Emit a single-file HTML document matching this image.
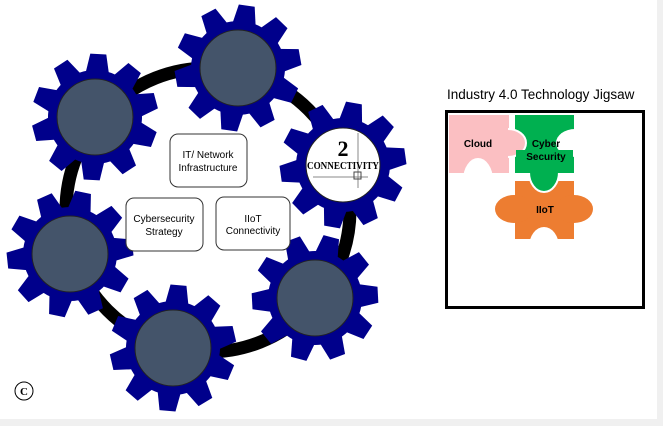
<!DOCTYPE html>
<html><head><meta charset="utf-8"><style>
html,body{margin:0;padding:0;background:#fff;}
body{width:663px;height:426px;overflow:hidden;position:relative;font-family:"Liberation Sans",sans-serif;}
</style></head><body>
<svg width="663" height="426" viewBox="0 0 663 426" xmlns="http://www.w3.org/2000/svg" style="position:absolute;left:0;top:0">
<rect x="0" y="419" width="663" height="7" fill="#f0f0f0"/>
<rect x="657" y="0" width="6" height="426" fill="#f0f0f0"/>
<defs>
<g id="gear">
 <circle r="47" fill="#00008b"/>
 <polygon id="t" points="-12,-42 -8,-63 8,-63 12,-42" fill="#00008b"/>
 <use href="#t" transform="rotate(36)"/><use href="#t" transform="rotate(72)"/>
 <use href="#t" transform="rotate(108)"/><use href="#t" transform="rotate(144)"/>
 <use href="#t" transform="rotate(180)"/><use href="#t" transform="rotate(216)"/>
 <use href="#t" transform="rotate(252)"/><use href="#t" transform="rotate(288)"/>
 <use href="#t" transform="rotate(324)"/>
</g>
</defs>
<ellipse cx="208" cy="210" rx="142" ry="142" fill="none" stroke="#000" stroke-width="13"/>
<g transform="translate(238,68) rotate(8)"><use href="#gear"/></g>
<circle cx="238" cy="68" r="38" fill="#44546a" stroke="#222" stroke-width="1"/>
<g transform="translate(95,117) rotate(3)"><use href="#gear"/></g>
<circle cx="95" cy="117" r="38" fill="#44546a" stroke="#222" stroke-width="1"/>
<g transform="translate(70,254) rotate(12)"><use href="#gear"/></g>
<circle cx="70" cy="254" r="38" fill="#44546a" stroke="#222" stroke-width="1"/>
<g transform="translate(173,348) rotate(5)"><use href="#gear"/></g>
<circle cx="173" cy="348" r="38" fill="#44546a" stroke="#222" stroke-width="1"/>
<g transform="translate(315,298) rotate(15)"><use href="#gear"/></g>
<circle cx="315" cy="298" r="38" fill="#44546a" stroke="#222" stroke-width="1"/>
<g transform="translate(343,165) rotate(10)"><use href="#gear"/></g>
<circle cx="343" cy="165" r="37" fill="#fff" stroke="#222" stroke-width="1"/>
<line x1="358" y1="133" x2="358" y2="188" stroke="#888" stroke-width="1"/>
<line x1="313" y1="177" x2="368" y2="177" stroke="#888" stroke-width="1"/>
<rect x="354" y="172" width="7" height="7" fill="none" stroke="#444" stroke-width="1"/>
<text x="343" y="156" text-anchor="middle" font-family="Liberation Serif,serif" font-weight="bold" font-size="22">2</text>
<text x="343" y="169" text-anchor="middle" font-family="Liberation Serif,serif" font-weight="bold" font-size="10" textLength="72" lengthAdjust="spacingAndGlyphs">CONNECTIVITY</text>
<g font-size="10" text-anchor="middle" fill="#000">
<rect x="170" y="134" width="77" height="53" rx="8" fill="#fff" stroke="#333"/>
<text x="208" y="158">IT/ Network</text><text x="208" y="171">Infrastructure</text>
<rect x="126" y="198" width="77" height="53" rx="8" fill="#fff" stroke="#333"/>
<text x="164" y="222">Cybersecurity</text><text x="164" y="235">Strategy</text>
<rect x="216" y="197" width="74" height="53" rx="8" fill="#fff" stroke="#333"/>
<text x="253" y="222">IIoT</text><text x="253" y="234">Connectivity</text>
</g>
<circle cx="24" cy="391" r="9" fill="#fff" stroke="#000" stroke-width="1"/>
<text x="24" y="395" text-anchor="middle" font-family="Liberation Serif,serif" font-weight="bold" font-size="11">C</text>
<text x="447" y="99" font-size="13.5" fill="#000">Industry 4.0 Technology Jigsaw</text>
<rect x="446.5" y="111.5" width="197" height="196" fill="#fff" stroke="#000" stroke-width="3"/>
<rect x="515" y="115" width="59" height="58" fill="#00b050"/>
<rect x="449" y="115" width="60" height="58" fill="#fbbfc2"/>
<ellipse cx="508" cy="143" rx="18" ry="14" fill="#fbbfc2" stroke="#fff" stroke-width="2"/>
<rect x="449" y="116" width="59" height="56" fill="#fbbfc2"/>
<ellipse cx="575" cy="143" rx="19" ry="14" fill="#fff"/>
<ellipse cx="478" cy="180" rx="15" ry="22" fill="#fff"/>
<rect x="515" y="181" width="59" height="58" fill="#ed7d31"/>
<ellipse cx="514" cy="209" rx="19" ry="14" fill="#ed7d31"/>
<ellipse cx="574" cy="209" rx="19" ry="14" fill="#ed7d31"/>
<ellipse cx="544" cy="172" rx="15" ry="20" fill="#00b050" stroke="#fff" stroke-width="2"/>
<rect x="516" y="150" width="57" height="23" fill="#00b050"/>
<ellipse cx="544" cy="247" rx="15" ry="20" fill="#fff"/>
<g font-size="10" font-weight="bold" text-anchor="middle">
<text x="478" y="147">Cloud</text>
<text x="546" y="147">Cyber</text><text x="546" y="160">Security</text>
<text x="545" y="213">IIoT</text>
</g>
</svg>
</body></html>
